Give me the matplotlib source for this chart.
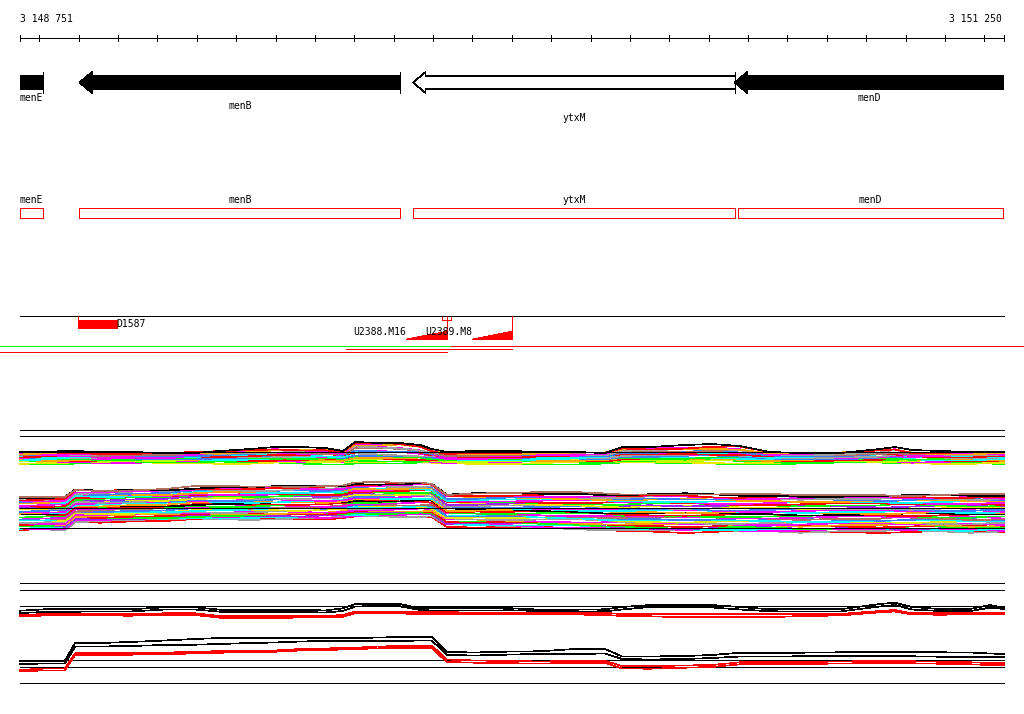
import numpy as np
import matplotlib
matplotlib.use('Agg')
import matplotlib.pyplot as plt
from matplotlib.patches import Polygon, Rectangle

plt.rcParams['font.family'] = ['DejaVu Sans Mono']
plt.rcParams['font.size'] = 7

# genomic window shown (bp)
START = 3148751
END = 3151250
BPPX = (END - START) / 984.0
XMIN = START - 20 * BPPX
XMAX = XMIN + 1024 * BPPX

# ---- annotation data ----
gene_names = ['menE', 'menB', 'ytxM', 'menD']
gene_start = [3148300, 3148902, 3149749, 3150566]
gene_end = [3148810, 3149717, 3150568, 3151600]
gene_fill = ['black', 'black', 'white', 'black']

probe_name = 'D1587'
probe_start = 3148899
probe_end = 3149001

tri_names = ['U2388.M16', 'U2389.M8']
tri_start = [3149731, 3149899]
tri_end = [3149835, 3150000]

# ---- tiling array signal (log2) ----
PROBES = [3148751, 3148814, 3148865, 3148891, 3148954, 3149030, 3149119, 3149195, 3149259, 3149335,
          3149399, 3149462, 3149526, 3149571, 3149602, 3149665, 3149716, 3149767, 3149797, 3149835,
          3149907, 3150000, 3150072, 3150160, 3150237, 3150280, 3150351, 3150440, 3150508, 3150580,
          3150656, 3150732, 3150833, 3150935, 3150973, 3151016, 3151087, 3151164, 3151214, 3151250]

# panel 2 (summaries)
sum_black1 = [13.23, 13.37, 13.37, 13.37, 13.37, 13.37, 13.57, 13.57, 13.33, 13.33,
              13.33, 13.33, 13.25, 13.47, 13.9, 13.9, 13.9, 13.47, 13.47, 13.47,
              13.47, 13.47, 13.33, 13.33, 13.37, 13.6, 13.8, 13.8, 13.8, 13.6,
              13.37, 13.37, 13.37, 13.9, 14.03, 13.6, 13.4, 13.4, 13.8, 13.5]
sum_black2 = [13.0, 13.1, 13.13, 13.13, 13.15, 13.15, 13.35, 13.35, 13.13, 13.1,
              13.1, 13.1, 13.05, 13.2, 13.65, 13.7, 13.67, 13.3, 13.25, 13.25,
              13.25, 13.27, 13.2, 13.15, 13.17, 13.35, 13.6, 13.57, 13.55, 13.35,
              13.17, 13.15, 13.15, 13.65, 13.8, 13.35, 13.2, 13.2, 13.53, 13.4]
sum_red1 = [12.8, 12.9, 12.9, 12.9, 12.9, 12.9, 12.97, 12.97, 12.7, 12.7,
            12.7, 12.7, 12.7, 12.8, 13.13, 13.13, 13.13, 13.13, 13.13, 13.13,
            12.97, 13.0, 13.0, 13.0, 13.0, 12.9, 12.9, 12.9, 12.9, 12.9,
            12.9, 12.9, 12.9, 13.2, 13.3, 12.97, 12.97, 12.97, 12.97, 12.97]
sum_red2 = [12.65, 12.75, 12.75, 12.75, 12.75, 12.73, 12.8, 12.8, 12.53, 12.5,
            12.5, 12.55, 12.55, 12.63, 12.97, 12.95, 12.95, 12.9, 12.9, 12.9,
            12.85, 12.87, 12.87, 12.85, 12.8, 12.7, 12.67, 12.57, 12.57, 12.57,
            12.57, 12.7, 12.75, 13.07, 13.15, 12.85, 12.83, 12.85, 12.87, 12.87]
sum_black3 = [8.2, 8.2, 8.23, 10.0, 10.0, 10.1, 10.25, 10.4, 10.5, 10.5,
              10.5, 10.5, 10.5, 10.5, 10.5, 10.55, 10.6, 10.6, 10.6, 9.1,
              9.05, 9.15, 9.17, 9.4, 9.4, 8.65, 8.65, 8.7, 8.8, 9.03,
              9.03, 9.03, 9.07, 9.07, 9.1, 9.1, 9.07, 9.05, 8.95, 8.9]
sum_black4 = [7.9, 7.95, 7.95, 9.65, 9.65, 9.7, 9.8, 9.83, 9.9, 10.0,
              10.05, 10.15, 10.2, 10.2, 10.2, 10.2, 10.2, 10.25, 10.25, 8.8,
              8.75, 8.85, 8.9, 8.9, 8.95, 8.4, 8.35, 8.4, 8.5, 8.65,
              8.65, 8.67, 8.7, 8.7, 8.7, 8.67, 8.63, 8.63, 8.6, 8.6]
sum_red3 = [7.3, 7.45, 7.45, 8.97, 9.0, 9.0, 9.05, 9.1, 9.2, 9.23,
            9.25, 9.4, 9.45, 9.5, 9.53, 9.65, 9.7, 9.73, 9.73, 8.35,
            8.25, 8.2, 8.15, 8.2, 8.2, 7.7, 7.7, 7.75, 7.8, 8.07,
            8.07, 8.1, 8.15, 8.2, 8.2, 8.17, 8.13, 8.07, 8.0, 8.0]
sum_red4 = [7.2, 7.25, 7.25, 8.8, 8.8, 8.83, 8.9, 8.95, 9.03, 9.07,
            9.13, 9.25, 9.3, 9.35, 9.4, 9.47, 9.5, 9.5, 9.5, 8.1,
            8.03, 7.97, 7.95, 8.0, 8.0, 7.45, 7.43, 7.53, 7.6, 7.87,
            7.9, 7.9, 7.95, 8.0, 8.0, 7.97, 7.93, 7.87, 7.8, 7.8]

# panel 1 (individual hybridisations), upper strand
up_top = 13.8
up_lift = [0, 0, 0, 0, 0, 0, 0, 0, .1, .3,
           .4, .4, .3, .1, 1.0, 1.0, 1.0, .7, .3, 0,
           0, 0, 0, 0, 0, .5, .5, .6, .7, .6,
           0, 0, 0, .3, .5, .1, 0, 0, 0, 0]
up_colors = ['black', '#ff0000', '#ffa500', '#ff00ff', '#a0a0a0', '#b07060', '#3c7cff', '#ff00ff',
             '#ff0000', '#00ffff', '#a0a0a0', '#ff00ff', '#3c7cff', '#00ff00', '#00ffff', '#ffa500',
             '#ff0000', '#c0ff00', '#00ff00', '#ff00ff', '#e8e800', '#00ff00']
up_offset = [0.0, 0.1, 0.15, 0.2, 0.25, 0.3, 0.35, 0.4, 0.45, 0.5, 0.55,
             0.6, 0.65, 0.7, 0.75, 0.8, 0.85, 0.9, 0.95, 1.0, 1.1, 1.15]
up_weight = [1.0, 0.9, 0.8, 0.95, 0.7, 0.6, 0.5, 0.8, 0.4, 0.5, 0.3,
             0.6, 0.3, 0.2, 0.3, 0.2, 0.2, 0.1, 0.1, 0.3, 0.1, 0.0]
up_pattern = [0, 1, 2, 3, 4, 5, 0, 1, 2, 3, 4, 5, 0, 1, 2, 3, 4, 5, 0, 1, 2, 3]

# lower strand
low_top = [9.2, 9.2, 9.3, 10.0, 10.0, 10.05, 10.1, 10.3, 10.33, 10.33,
           10.35, 10.4, 10.4, 10.45, 10.65, 10.7, 10.73, 10.75, 10.7, 9.6,
           9.65, 9.7, 9.7, 9.7, 9.65, 9.55, 9.65, 9.65, 9.55, 9.5,
           9.5, 9.5, 9.5, 9.5, 9.5, 9.5, 9.5, 9.5, 9.5, 9.5]
low_bottom = [6.0, 6.0, 6.0, 6.8, 6.83, 6.85, 6.9, 7.0, 7.0, 7.05,
              7.1, 7.1, 7.15, 7.2, 7.25, 7.3, 7.33, 7.33, 7.3, 6.4,
              6.35, 6.3, 6.2, 6.1, 6.0, 5.9, 5.85, 5.8, 5.8, 5.85,
              5.8, 5.75, 5.8, 5.8, 5.85, 5.8, 5.8, 5.75, 5.8, 5.8]
low_colors = ['#b07060', 'black', '#ff0000', '#ff00ff', '#a0a0a0', '#3c7cff', '#ffa500', '#00ffff',
              '#ff00ff', '#ff0000', '#00ff00', '#a020f0', '#e8e800', '#a0a0a0', '#3c7cff', '#ff00ff',
              '#00ffff', '#ffa500', 'black', '#ff0000', '#00ff00', '#ff00ff', '#b07060', '#3c7cff',
              '#00ffff', '#e8e800', '#a0a0a0', '#ff00ff', '#ffa500', '#ff0000', '#00ff00', '#a020f0',
              '#00ffff', '#ff00ff', '#a0a0a0', '#ff0000']
low_frac = [0.0, 0.02, 0.05, 0.08, 0.1, 0.13, 0.16, 0.19, 0.22, 0.25, 0.28, 0.31,
            0.34, 0.37, 0.4, 0.43, 0.46, 0.49, 0.52, 0.55, 0.58, 0.61, 0.64, 0.67,
            0.7, 0.73, 0.76, 0.79, 0.82, 0.85, 0.88, 0.9, 0.93, 0.95, 0.98, 1.0]
low_pattern = [1, 0, 2, 3, 4, 5, 0, 1, 2, 3, 4, 5, 0, 1, 2, 3, 4, 5,
               0, 1, 2, 3, 4, 5, 0, 1, 2, 3, 4, 5, 0, 1, 2, 3, 4, 5]

wobble = [
    [0, 0, .1, .1, 0, 0, -.1, -.1, 0, 0, .1, .1, .1, 0, 0, -.1, -.1, 0, 0, 0,
     .1, .1, 0, 0, -.1, 0, 0, .1, .1, 0, 0, -.1, -.1, 0, 0, .1, .1, 0, 0, 0],
    [.1, .1, 0, 0, -.1, -.1, 0, .1, .1, 0, 0, -.1, 0, 0, .1, .1, 0, 0, -.1, -.1,
     0, 0, .1, .1, 0, 0, -.1, -.1, 0, .1, .1, 0, 0, 0, -.1, -.1, 0, .1, .1, .1],
    [-.1, 0, 0, .1, .1, .1, 0, 0, -.1, -.1, 0, 0, .1, .1, 0, 0, .1, .1, 0, 0,
     -.1, -.1, 0, .1, .1, 0, 0, 0, -.1, -.1, 0, .1, .1, .1, 0, 0, -.1, -.1, 0, 0],
    [0, -.1, -.1, 0, 0, .1, .1, 0, 0, .1, .1, 0, -.1, -.1, 0, 0, 0, .1, .1, 0,
     0, 0, -.1, -.1, 0, .1, .1, 0, 0, -.1, -.1, 0, .1, .1, 0, 0, 0, .1, 0, -.1],
    [.1, 0, -.1, -.1, 0, .1, .1, .1, 0, -.1, -.1, 0, 0, .1, .1, 0, -.1, -.1, 0, .1,
     .1, 0, 0, -.1, -.1, 0, .1, .1, .1, 0, 0, -.1, 0, 0, .1, .1, 0, -.1, -.1, 0],
    [0, .1, .1, 0, -.1, 0, 0, .1, .1, .1, 0, 0, -.1, 0, .1, .1, 0, 0, 0, -.1,
     -.1, 0, .1, .1, 0, 0, 0, -.1, 0, .1, .1, .1, 0, -.1, -.1, 0, .1, .1, 0, 0],
]

ref1 = [15.97, 15.4, 13.83, 8.17, 6.17]
ref2 = [15.97, 15.27, 13.67, 8.27, 7.57, 5.97]

LW = 0.5
fig = plt.figure(figsize=(10.24, 7.14), dpi=100, facecolor='white')
ax = fig.add_axes([0, 0, 1, 1])
ax.set_xlim(XMIN, XMAX)
ax.set_ylim(714, 0)
ax.axis('off')
clip = Rectangle((START, 0), END - START, 714, transform=ax.transData)

# ruler
ax.text(START, 19, '3 148 751', ha='left', va='center')
ax.text(END - 5, 19, '3 151 250', ha='right', va='center')
ax.plot([START, END], [38, 38], color='black', lw=LW, antialiased=False)
ticks = [START] + list(range(3148800, END, 100)) + [END]
ax.vlines(ticks, 35, 41, color='black', lw=LW, antialiased=False)

# gene arrows (all on reverse strand)
head = 32
for name, s, e, fc in zip(gene_names, gene_start, gene_end, gene_fill):
    pts = [(s, 82.5), (s + head, 72), (s + head, 76), (e, 76), (e, 89),
           (s + head, 89), (s + head, 93)]
    p = Polygon(pts, closed=True, facecolor=fc, edgecolor='black', lw=LW, antialiased=False)
    ax.add_patch(p)
    p.set_clip_path(clip)
for e in gene_end:
    if e < END:
        ax.plot([e, e], [72, 93], color='black', lw=LW, antialiased=False)
label_rows = [98, 106, 118, 98]
for name, s, e, r in zip(gene_names, gene_start, gene_end, label_rows):
    xc = (max(s, START) + min(e, END)) / 2
    ax.text(xc, r, name, ha='center', va='center')

# gene boxes
for name, s, e in zip(gene_names, gene_start, gene_end):
    s2 = max(s + 8 if name == 'menD' else s, START)
    e2 = min(e, END - 2)
    ax.add_patch(Rectangle((s2, 207.5), e2 - s2, 10, facecolor='none', edgecolor='#ff0000',
                           lw=LW, antialiased=False))
    ax.text((s2 + e2) / 2, 200, name, ha='center', va='center')

# probe track
ax.plot([START, END], [315.5, 315.5], color='black', lw=LW, antialiased=False)
ax.add_patch(Rectangle((probe_start, 320), probe_end - probe_start, 8.5, facecolor='#ff0000',
                       edgecolor='none', antialiased=False))
ax.plot([probe_start, probe_start], [315.5, 320], color='#ff0000', lw=LW, antialiased=False)
ax.text(probe_end - 5, 324, probe_name, ha='left', va='center')
for name, s, e in zip(tri_names, tri_start, tri_end):
    ax.add_patch(Polygon([(s, 338.7), (e, 338.7), (e, 331)], closed=True, facecolor='#ff0000',
                         edgecolor='#ff0000', lw=LW, antialiased=False))
    ax.plot([e, e], [315.5, 338.7], color='#ff0000', lw=LW, antialiased=False)
    ax.text(s, 332, name, ha='right', va='center')
ax.add_patch(Rectangle((3149823, 315.5), 22, 4, facecolor='none', edgecolor='#ff0000',
                       lw=LW, antialiased=False))

# coverage lines
ax.plot([XMIN, 3149846], [346, 346], color='#00ff00', lw=LW, antialiased=False)
ax.plot([3149846, XMAX], [346, 346], color='#ff0000', lw=LW, antialiased=False)
ax.plot([3149579, 3150000], [348.5, 348.5], color='#ff0000', lw=LW, antialiased=False)
ax.plot([XMIN, 3149835], [351.5, 351.5], color='#ff0000', lw=LW, antialiased=False)

# signal panels
def panel(row_top):
    a = fig.add_axes([0, (714 - row_top - 110) / 714, 1, 110 / 714])
    a.set_xlim(XMIN, XMAX)
    a.set_ylim(5.5, 16.5)
    a.axis('off')
    a.patch.set_alpha(0)
    return a

x = np.array(PROBES)
ax1 = panel(425)
for c, off, w, pi in zip(up_colors, up_offset, up_weight, up_pattern):
    y = up_top - off + np.array(up_lift) * w + np.array(wobble[pi])
    ax1.plot(x, y, color=c, lw=LW, antialiased=False, zorder=3 - off)
top = np.array(low_top)
bot = np.array(low_bottom)
for c, f, pi in zip(low_colors, low_frac, low_pattern):
    y = top + f * (bot - top) + np.array(wobble[pi])
    ax1.plot(x, y, color=c, lw=LW, antialiased=False, zorder=3 - f)
ax1.hlines(ref1, START, END, colors='black', lw=LW, antialiased=False, zorder=4)

ax2 = panel(578)
ax2.hlines(ref2, START, END, colors='black', lw=LW, antialiased=False, zorder=1)
for y, c in [(sum_black1, 'black'), (sum_black2, 'black'), (sum_red1, '#ff0000'), (sum_red2, '#ff0000'),
             (sum_black3, 'black'), (sum_black4, 'black'), (sum_red3, '#ff0000'), (sum_red4, '#ff0000')]:
    ax2.plot(x, y, color=c, lw=LW, antialiased=False, zorder=2)

fig.savefig('out.png', dpi=100, facecolor='white')
